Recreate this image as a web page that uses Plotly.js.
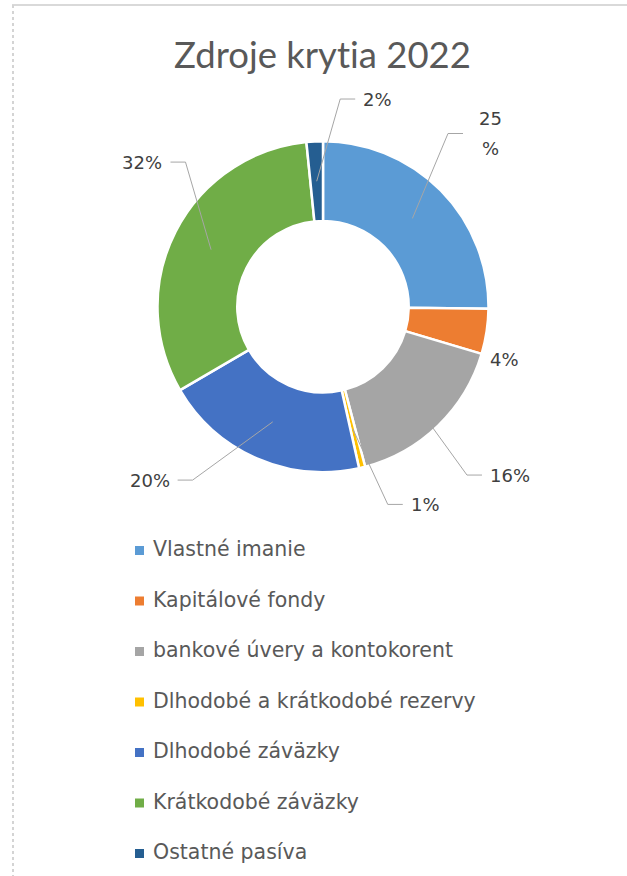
<!DOCTYPE html>
<html><head><meta charset="utf-8">
<script src="https://cdn.plot.ly/plotly-3.0.1.min.js"></script>
<style>html,body{margin:0;padding:0;background:#fff}#chart{width:627px;height:876px}text{font-variant-ligatures:none;font-feature-settings:"liga" 0,"clig" 0}</style>
</head><body><div id="chart"></div>
<script>
// ---- data ----
const categories = ['Vlastné imanie','Kapitálové fondy','bankové úvery a kontokorent','Dlhodobé a krátkodobé rezervy','Dlhodobé záväzky','Krátkodobé záväzky','Ostatné pasíva'];
const shares = [25.2, 4.4, 16.3, 0.6, 20.1, 31.8, 1.6];
const colors = ['#5B9BD5','#ED7D31','#A5A5A5','#FFC000','#4472C4','#70AD47','#255E91'];
const titleText = 'Zdroje krytia 2022';

// ---- layout / style ----
const W = 627, H = 876;
const CX = 323, CY = 306.7, R = 165.5, HOLE = 0.518;
const TITLE_FONT = 'Lato, "Open Sans", sans-serif';
const TEXT_FONT = '"DejaVu Sans", Verdana, sans-serif';
// label centre placement: [deg clockwise from 12 o'clock, px from centre]
const labelPolar = [[43.96,240.6],[106.4,188.7],[132.0,251.6],[152.7,222.5],[225.0,245.2],[308.7,231.3],[14.7,214.7]];
const labelLine = [true,false,true,true,true,true,true];
const labelWrap = [true,false,false,false,false,false,false];

const fx = x => x / W;
const fy = y => 1 - y / H;
const total = shares.reduce((a,b)=>a+b,0);
const pct = shares.map(v => Math.round(100 * v / total) + '%');

const shapes = [];
const annotations = [];

// frame lines
shapes.push({type:'line', xref:'paper', yref:'paper', x0:fx(12), x1:fx(627), y0:fy(5), y1:fy(5), line:{color:'#D9D9D9', width:2}});
shapes.push({type:'line', xref:'paper', yref:'paper', x0:fx(13), x1:fx(13), y0:fy(5), y1:fy(876), line:{color:'#D4D4D4', width:2, dash:'dot'}});

const labelFont = {family:TEXT_FONT, size:18, color:'#404040'};
// data labels with leader lines
let cum = 0;
const ringMid = R * (1 + HOLE) / 2;
shares.forEach((v, i) => {
  const a0 = cum / total * 360;
  cum += v;
  const a1 = cum / total * 360;
  const mid = (a0 + a1) / 2 * Math.PI / 180;
  const sx = CX + ringMid * Math.sin(mid), sy = CY - ringMid * Math.cos(mid);
  const la = labelPolar[i][0] * Math.PI / 180, lr = labelPolar[i][1];
  const lx = CX + lr * Math.sin(la), ly = CY - lr * Math.cos(la);
  let hw;
  if (labelWrap[i]) {
    const num = pct[i].replace('%', '');
    annotations.push({xref:'paper', yref:'paper', x:fx(lx), y:fy(ly - 15), xanchor:'center', yanchor:'middle',
      text:num, showarrow:false, font:labelFont});
    annotations.push({xref:'paper', yref:'paper', x:fx(lx), y:fy(ly + 15), xanchor:'center', yanchor:'middle',
      text:'%', showarrow:false, font:labelFont});
    hw = 19;
  } else {
    annotations.push({xref:'paper', yref:'paper', x:fx(lx), y:fy(ly), xanchor:'center', yanchor:'middle',
      text:pct[i], showarrow:false, font:labelFont});
    hw = ((pct[i].length - 1) * 11.45 + 17.1) / 2;
  }
  if (labelLine[i]) {
    const side = Math.sin(la) >= 0 ? 1 : -1;
    const yy = ly;
    const ex = lx - side * (hw + 8), bx = ex - side * 15;
    shapes.push({type:'path', xref:'paper', yref:'paper',
      path:`M ${fx(sx)} ${fy(sy)} L ${fx(bx)} ${fy(yy)} L ${fx(ex)} ${fy(yy)}`,
      line:{color:'#A6A6A6', width:1}});
  }
});

// legend (manual, to match the spacing)
categories.forEach((c, i) => {
  const y = 549 + 50.5 * i;
  shapes.push({type:'rect', xref:'paper', yref:'paper', x0:fx(135), x1:fx(144), y0:fy(y+6), y1:fy(y-3), fillcolor:colors[i], line:{width:0}});
  annotations.push({xref:'paper', yref:'paper', x:fx(151), y:fy(y), xanchor:'left', yanchor:'middle',
    text:c, showarrow:false, font:{family:TEXT_FONT, size:20.5, color:'#595959'}});
});

const trace = {
  type:'pie', labels:categories, values:shares, sort:false, direction:'clockwise', rotation:0,
  hole:HOLE, textinfo:'none', hoverinfo:'skip', showlegend:false,
  marker:{colors:colors, line:{color:'#FFFFFF', width:2.5}},
  domain:{x:[fx(CX-R), fx(CX+R)], y:[fy(CY+R), fy(CY-R)]}
};

const layout = {
  width:W, height:H, margin:{l:0, r:0, t:0, b:0},
  paper_bgcolor:'#FFFFFF', plot_bgcolor:'#FFFFFF', showlegend:false,
  title:{text:titleText, x:322.5/W, xanchor:'center', y:fy(55), yanchor:'middle', yref:'container',
    font:{family:TITLE_FONT, size:36.5, color:'#595959'}},
  shapes:shapes, annotations:annotations
};

Plotly.newPlot('chart', [trace], layout, {displayModeBar:false, staticPlot:true});
</script></body></html>
